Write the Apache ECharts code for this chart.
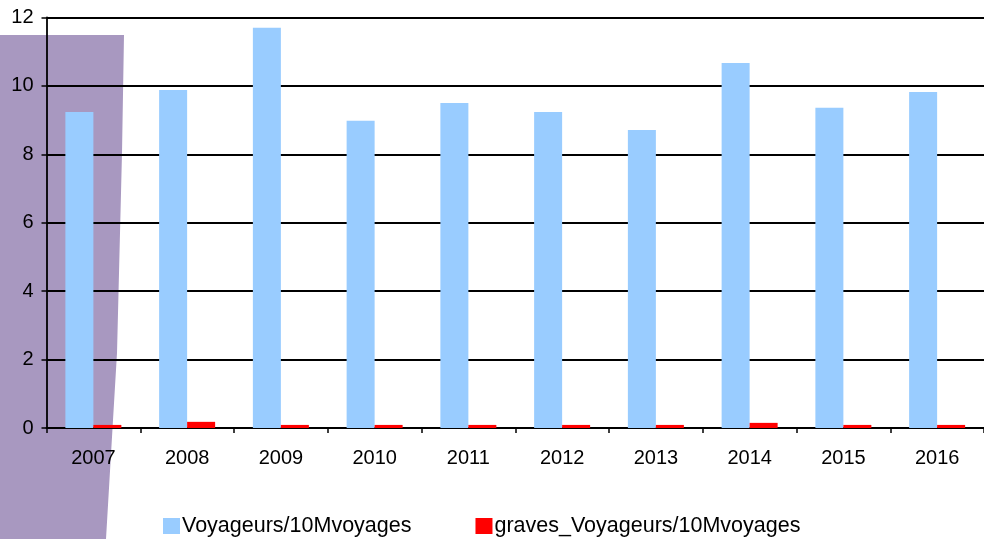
<!DOCTYPE html>
<html>
<head>
<meta charset="utf-8">
<script src="https://cdn.jsdelivr.net/npm/echarts@6/dist/echarts.min.js"></script>
<style>
html,body{margin:0;padding:0;background:#fff;}
#chart{width:984px;height:539px;}
</style>
</head>
<body>
<div id="chart"></div>
<script>
const categories = ['2007','2008','2009','2010','2011','2012','2013','2014','2015','2016'];
const voyageurs = [9.24, 9.88, 11.70, 8.98, 9.50, 9.24, 8.71, 10.67, 9.36, 9.82];
const graves = [0.09, 0.18, 0.09, 0.09, 0.09, 0.09, 0.09, 0.15, 0.09, 0.09];
const seriesNames = ['Voyageurs/10Mvoyages', 'graves_Voyageurs/10Mvoyages'];
const yTicks = {min: 0, max: 12, interval: 2};

const chart = echarts.init(document.getElementById('chart'));
const font = 'Liberation Sans, Arial, sans-serif';
chart.setOption({
  animation: false,
  backgroundColor: '#ffffff',
  graphic: [{
    type: 'polygon',
    z: -100,
    silent: true,
    shape: {points: [[0,35],[124,35],[122,153],[117,353],[113,420],[106,539],[0,539]]},
    style: {fill: '#a898c0'}
  }],
  grid: {left: 46.5, right: -5, top: 17.5, bottom: 111, containLabel: false},
  legend: {
    data: seriesNames,
    left: 163,
    top: 515,
    padding: 0,
    itemWidth: 17,
    itemHeight: 16,
    itemGap: 64,
    icon: 'rect',
    textStyle: {fontFamily: font, fontSize: 21.5, color: '#000', padding: [0,0,0,-3]}
  },
  xAxis: {
    type: 'category',
    data: categories,
    axisLine: {lineStyle: {color: '#000', width: 1.8}},
    axisTick: {show: true, length: 5, lineStyle: {color: '#000', width: 1.5}},
    axisLabel: {fontFamily: font, fontSize: 20, color: '#000', margin: 20}
  },
  yAxis: {
    type: 'value',
    min: yTicks.min, max: yTicks.max, interval: yTicks.interval,
    axisLine: {show: true, lineStyle: {color: '#000', width: 1.8}},
    axisTick: {show: true, length: 5, lineStyle: {color: '#000', width: 1.5}},
    axisLabel: {fontFamily: font, fontSize: 20, color: '#000', margin: 13},
    splitLine: {show: true, lineStyle: {color: '#000', width: 1.8}}
  },
  series: [
    {name: seriesNames[0], type: 'bar', data: voyageurs, barWidth: 28, barGap: '0%', itemStyle: {color: '#99ccff'}},
    {name: seriesNames[1], type: 'bar', data: graves, barWidth: 28, barGap: '0%', itemStyle: {color: '#ff0000'}}
  ]
});
</script>
</body>
</html>
